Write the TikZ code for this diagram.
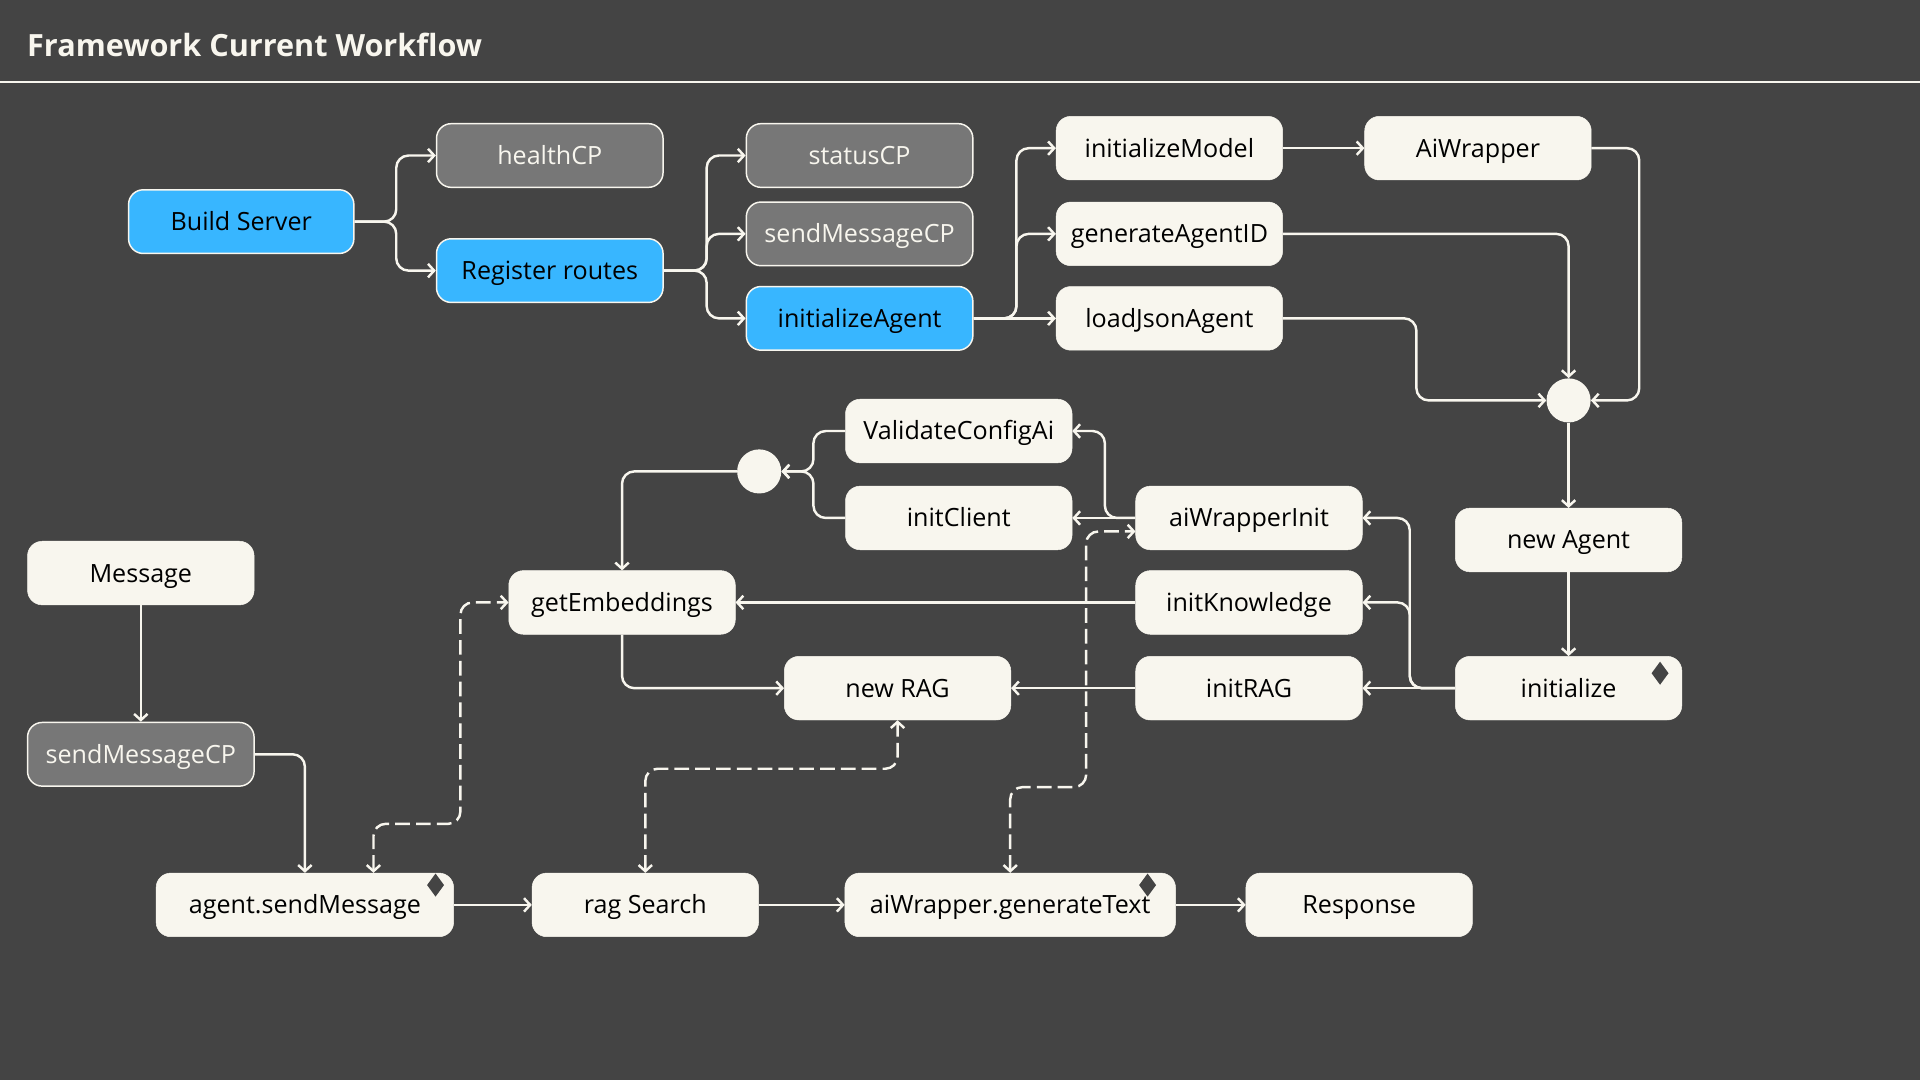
\documentclass[tikz,border=0pt]{standalone}
\usepackage{fontspec}
\setmainfont{Open Sans}
\usetikzlibrary{arrows.meta,shapes.geometric}
\definecolor{bg}{HTML}{444444}
\definecolor{cream}{HTML}{F8F6EE}
\definecolor{skyblue}{HTML}{38B6FF}
\definecolor{midgray}{HTML}{777777}
\tikzset{
  box/.style={rectangle,rounded corners=12pt,minimum width=185pt,minimum height=52pt,
    fill=cream,draw=cream,text=black,font=\fontsize{20.5}{24}\selectfont,inner sep=0pt,
    text height=14.6pt,text depth=0pt},
  bluebox/.style={box,fill=skyblue,draw=cream,line width=1.2pt},
  graybox/.style={box,fill=midgray,draw=cream,line width=1.2pt,text=cream},
  dot/.style={circle,fill=cream,minimum size=36pt,inner sep=0pt},
  flag/.style={diamond,fill=bg,minimum width=14pt,minimum height=19pt,inner sep=0pt},
  link/.style={draw=cream,line width=2pt,rounded corners=10pt,-{Straight Barb[length=5pt,width=11pt]}},
  dlink/.style={link,dash pattern=on 12pt off 5pt,
    {Straight Barb[length=5pt,width=11pt]}-{Straight Barb[length=5pt,width=11pt]}},
}
\begin{document}
\begin{tikzpicture}[x=1pt,y=-1pt]
	\fill[bg] (0,0) rectangle (1568,882);
	\useasboundingbox (0,0) rectangle (1568,882);
	% title
	\node[anchor=west,inner sep=0pt,text=cream,font=\fontsize{25}{28}\selectfont\bfseries] (title) at (22,37) {Framework Current Workflow};
	\draw[cream,line width=1.3pt] (0,67) -- (1568,67);
	% server and routes
	\node[bluebox,minimum width=184pt] (build) at (197,181) {Build Server};
	\node[graybox] (health) at (449,127) {healthCP};
	\node[bluebox] (routes) at (449,221) {Register routes};
	\node[graybox] (status) at (702,127) {statusCP};
	\node[graybox] (sendcp) at (702,191) {sendMessageCP};
	\node[bluebox] (initagent) at (702,260) {initializeAgent};
	% agent setup
	\node[box] (initmodel) at (955,121) {initializeModel};
	\node[box] (aiwrap) at (1207,121) {AiWrapper};
	\node[box] (genid) at (955,191) {generateAgentID};
	\node[box] (loadjson) at (955,260) {loadJsonAgent};
	\node[dot] (joinA) at (1281,327) {};
	\node[box] (newagent) at (1281,441) {new Agent};
	\node[box] (initialize) at (1281,562) {initialize};
	% init chain
	\node[box] (validate) at (783,352) {ValidateConfigAi};
	\node[box] (initclient) at (783,423) {initClient};
	\node[dot] (joinB) at (620,385) {};
	\node[box] (awinit) at (1020,423) {aiWrapperInit};
	\node[box] (initknow) at (1020,492) {initKnowledge};
	\node[box] (initrag) at (1020,562) {initRAG};
	\node[box] (embed) at (508,492) {getEmbeddings};
	\node[box] (newrag) at (733,562) {new RAG};
	% message flow
	\node[box] (message) at (115,468) {Message};
	\node[graybox] (sendcpB) at (115,616) {sendMessageCP};
	\node[box,minimum width=243pt] (agentsend) at (249,739) {agent.sendMessage};
	\node[box] (ragsearch) at (527,739) {rag Search};
	\node[box,minimum width=270pt] (gentext) at (825,739) {aiWrapper.generateText};
	\node[box] (response) at (1110,739) {Response};
	\node[flag] (flagA) at ([xshift=-15pt,yshift=-10pt]agentsend.north east) {};
	\node[flag] (flagB) at ([xshift=-23pt,yshift=-10pt]gentext.north east) {};
	\node[flag] (flagC) at ([xshift=-18pt,yshift=-14pt]initialize.north east) {};
	% connectors
	\draw[link] (build.east) -- ++(34,0) |- (health.west);
	\draw[link] (build.east) -- ++(34,0) |- (routes.west);
	\draw[link] (routes.east) -- ++(35,0) |- (status.west);
	\draw[link] (routes.east) -- ++(35,0) |- (sendcp.west);
	\draw[link] (routes.east) -- ++(35,0) |- (initagent.west);
	\draw[link] (initagent.east) -- ++(35,0) |- (initmodel.west);
	\draw[link] (initagent.east) -- ++(35,0) |- (genid.west);
	\draw[link] (initagent.east) -- (loadjson.west);
	\draw[link] (initmodel) -- (aiwrap);
	\draw[link] (aiwrap.east) -- ++(39,0) |- (joinA.east);
	\draw[link] (genid.east) -| (joinA.north);
	\draw[link] (loadjson.east) -- ++(109,0) |- (joinA.west);
	\draw[link] (joinA) -- (newagent);
	\draw[link] (newagent) -- (initialize);
	\draw[link] (initialize) -- (initrag);
	\draw[link] (initialize.west) -- ++(-37,0) |- (initknow.east);
	\draw[link] (initialize.west) -- ++(-37,0) |- (awinit.east);
	\draw[link] (awinit) -- (initclient);
	\draw[link] (awinit.west) -- ++(-25,0) |- (validate.east);
	\draw[link] (validate.west) -- ++(-26,0) |- (joinB.east);
	\draw[link] (initclient.west) -- ++(-26,0) |- (joinB.east);
	\draw[link] (joinB.west) -| (embed.north);
	\draw[link] (initknow) -- (embed);
	\draw[link] (embed.south) |- (newrag.west);
	\draw[link] (initrag) -- (newrag);
	\draw[link] (message) -- (sendcpB);
	\draw[link] (sendcpB.east) -| (agentsend.north);
	\draw[link] (agentsend) -- (ragsearch);
	\draw[link] (ragsearch) -- (gentext);
	\draw[link] (gentext) -- (response);
	% calls
	\draw[dlink] ([xshift=56pt]agentsend.north) -- ++(0,-40) -- ++(71,0) |- (embed.west);
	\draw[dlink] (ragsearch.north) -- ++(0,-85) -| (newrag.south);
	\draw[dlink] (gentext.north) -- ++(0,-70) -- ++(62,0) |- ([yshift=-11pt]awinit.west);
\end{tikzpicture}
\end{document}
